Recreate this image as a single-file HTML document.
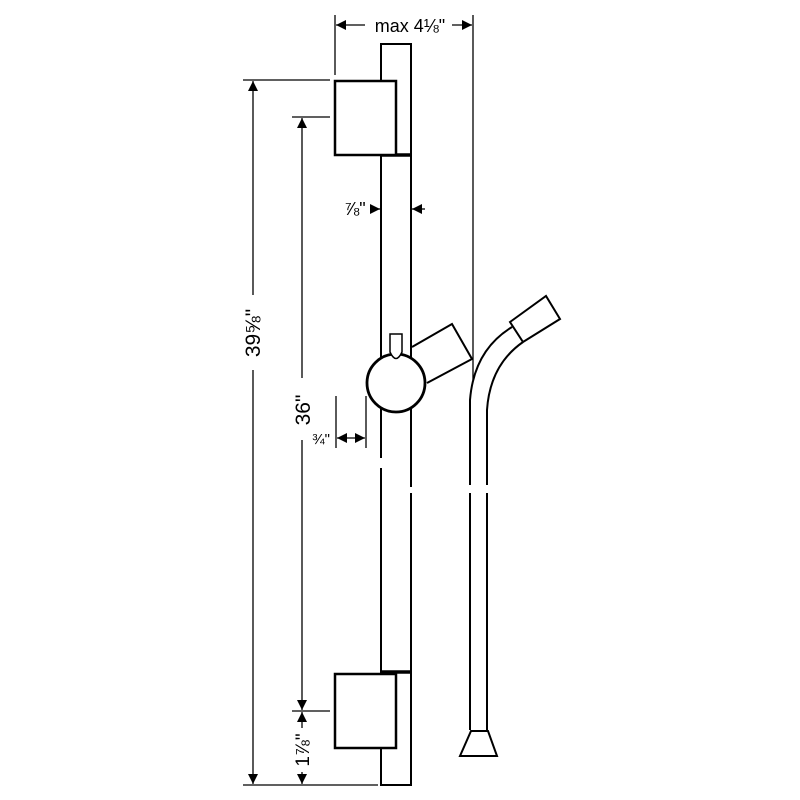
<!DOCTYPE html>
<html><head><style>body{margin:0;background:#fff}svg{display:block}text{font-family:"Liberation Sans",sans-serif;fill:#000}</style></head>
<body>
<svg width="800" height="800" viewBox="0 0 800 800" xmlns="http://www.w3.org/2000/svg">
<defs>
<marker id="a" viewBox="0 0 10 10" refX="10" refY="5" markerWidth="10" markerHeight="10" markerUnits="userSpaceOnUse" orient="auto-start-reverse"><path d="M0,0L10,5L0,10z" fill="#000"/></marker>
</defs>
<g stroke="#000" fill="none" stroke-width="1.3">
<line x1="335" y1="15" x2="335" y2="75"/>
<line x1="473" y1="15" x2="473" y2="380"/>
<line x1="336" y1="25" x2="365" y2="25" marker-start="url(#a)"/>
<line x1="452" y1="25" x2="472" y2="25" marker-end="url(#a)"/>
<line x1="243" y1="80" x2="330" y2="80"/>
<line x1="243" y1="785" x2="378" y2="785"/>
<line x1="253" y1="81" x2="253" y2="295" marker-start="url(#a)"/>
<line x1="253" y1="370" x2="253" y2="784" marker-end="url(#a)"/>
<line x1="292" y1="117" x2="330" y2="117"/>
<line x1="292" y1="711" x2="330" y2="711"/>
<line x1="302" y1="118" x2="302" y2="378" marker-start="url(#a)"/>
<line x1="302" y1="440" x2="302" y2="710" marker-end="url(#a)"/>
<line x1="302" y1="712" x2="302" y2="728" marker-start="url(#a)"/>
<line x1="302" y1="772" x2="302" y2="784" marker-end="url(#a)"/>
<line x1="370" y1="209" x2="380" y2="209" marker-end="url(#a)"/>
<line x1="412" y1="209" x2="425" y2="209" marker-start="url(#a)"/>
<line x1="336" y1="396" x2="336" y2="448"/>
<line x1="366" y1="396" x2="366" y2="448"/>
<line x1="337" y1="438" x2="365" y2="438" marker-start="url(#a)" marker-end="url(#a)"/>
</g>
<g stroke="#000" fill="none" stroke-width="2">
<path d="M381,44 H411 V785 H381 Z" fill="#fff"/>
<line x1="381" y1="155" x2="411" y2="155" stroke-width="3.5"/>
<line x1="381" y1="672" x2="411" y2="672" stroke-width="3.5"/>
<rect x="335" y="81" width="61" height="74" fill="#fff" stroke-width="2.5"/>
<rect x="335" y="674" width="61" height="74" fill="#fff" stroke-width="2.5"/>
<path d="M412,347 L452,324 L472,359 L427,383" fill="#fff"/>
<circle cx="396" cy="383" r="29" fill="#fff" stroke-width="2.8"/>
<path d="M390,334 H402 V352 Q396,365 390,352 Z" fill="#fff" stroke-width="1.5"/>
<path d="M470,730 V400 Q474,350 512,327" />
<path d="M487,730 V410 Q490,365 523,342" />
<path d="M510,322 L546,296 L560,319 L523,342 Z" fill="#fff"/>
<path d="M471,731 H488 L497,756 H460 Z" fill="#fff"/>
</g>
<rect x="378" y="458" width="6" height="10" fill="#fff"/>
<rect x="408" y="487" width="6" height="6" fill="#fff"/>
<rect x="466" y="485" width="7" height="8" fill="#fff"/>
<rect x="483" y="485" width="7" height="8" fill="#fff"/>
<text x="410" y="32" font-size="18" text-anchor="middle">max 4⅛"</text>
<text transform="translate(260,333) rotate(-90)" font-size="21" text-anchor="middle">39⅝"</text>
<text transform="translate(310,410) rotate(-90)" font-size="21" text-anchor="middle">36"</text>
<text transform="translate(309,750) rotate(-90)" font-size="19" text-anchor="middle">1⅞"</text>
<text x="355" y="215" font-size="18" text-anchor="middle">⅞"</text>
<text x="321" y="444" font-size="15" text-anchor="middle">¾"</text>
</svg>
</body></html>
